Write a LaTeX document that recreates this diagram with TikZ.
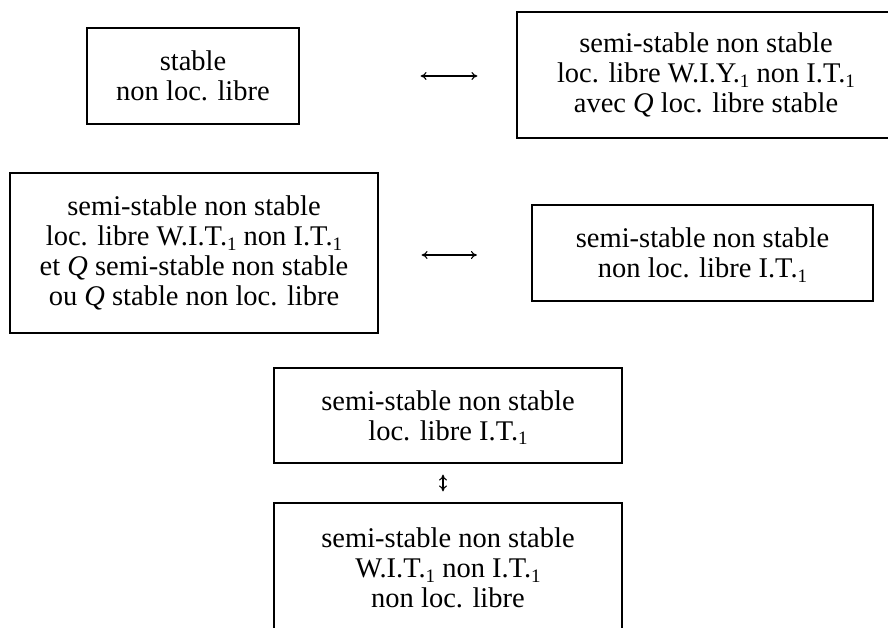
\documentclass[tikz,border=0pt]{standalone}
\usepackage{fontspec}
\setmainfont{Liberation Serif}
\usetikzlibrary{arrows.meta,calc}
\newcommand\one{\smash{\raisebox{-4.5pt}{\fontsize{19}{19}\selectfont 1}}}
\tikzset{
  box/.style={draw, line width=1.2pt, align=center, inner sep=0pt,
    font=\fontsize{28.5}{30}\selectfont},
  rel/.style={{To[length=6pt,width=8pt]}-{To[length=6pt,width=8pt]}, line width=1.1pt}
}
\begin{document}
\begin{tikzpicture}[x=1pt,y=1pt]
\useasboundingbox (0,0) rectangle (888,627);
\clip (0,0) rectangle (888,627);
\node[box, minimum width=212, minimum height=96] (b1) at (193,551)
  {stable\\non loc. libre};
\node[box, minimum width=378, minimum height=126] (b2) at (706,552)
  {semi-stable non stable\\loc. libre W.I.Y.\one{} non I.T.\one\\avec \textit{Q} loc. libre stable};
\node[box, minimum width=368, minimum height=160] (b3) at (194,374)
  {semi-stable non stable\\loc. libre W.I.T.\one{} non I.T.\one\\et \textit{Q} semi-stable non stable\\ou \textit{Q} stable non loc. libre};
\node[box, minimum width=341, minimum height=96] (b4) at (702.5,374)
  {semi-stable non stable\\non loc. libre I.T.\one};
\node[box, minimum width=348, minimum height=95] (b5) at (448,211.5)
  {semi-stable non stable\\loc. libre I.T.\one};
\node[box, minimum width=348, minimum height=130] (b6) at (448,59)
  {semi-stable non stable\\W.I.T.\one{} non I.T.\one\\non loc. libre};
\draw[rel, shorten <=121pt, shorten >=39pt] (b1.east) -- (b2.west |- b1.east);
\draw[rel, shorten <=43pt, shorten >=54.5pt] ($(b3.east)+(0,-2)$) -- ($(b4.west)+(0,-2)$);
\draw[rel, shorten <=11pt, shorten >=11pt] ($(b5.south)+(-5,0)$) -- ($(b6.north)+(-5,0)$);
\end{tikzpicture}
\end{document}
